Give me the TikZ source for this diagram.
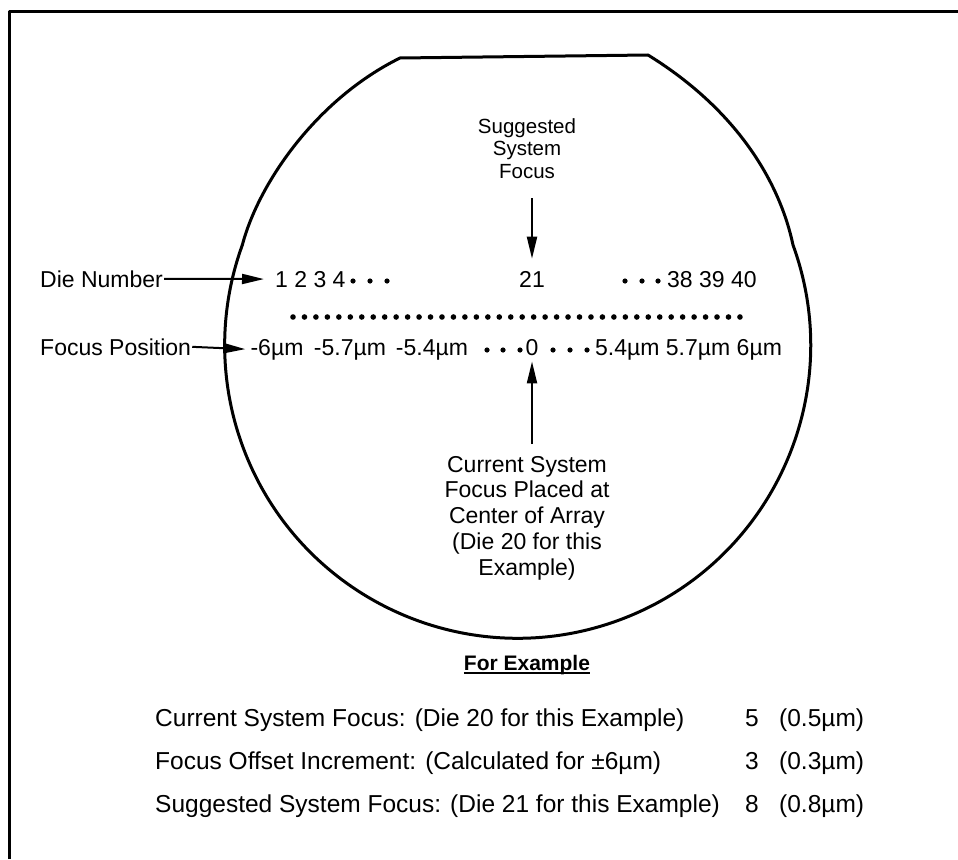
\documentclass[tikz,border=0pt]{standalone}
\usepackage{fontspec}
\setmainfont{Liberation Sans}
\usetikzlibrary{arrows.meta}
\begin{document}
\begin{tikzpicture}[x=1pt,y=-1pt,
  txt/.style={inner sep=0pt, font=\fontsize{23}{25}\selectfont},
  sugtxt/.style={inner sep=0pt, align=center, font=\fontsize{20.5}{22.5}\selectfont},
  curtxt/.style={inner sep=0pt, align=center, font=\fontsize{23}{25.7}\selectfont},
  btxt/.style={inner sep=0pt, font=\fontsize{24.5}{28}\selectfont},
  arr/.style={line width=2pt, -{Triangle[length=22pt,width=10pt]}},
  thick3/.style={line width=3pt, line join=round},
  dotfill/.style={fill=black}
]
\useasboundingbox (0,0) rectangle (958,859);
% frame (left and top edges)
\draw[thick3] (9,859) -- (9,12) -- (958,12);
% wafer outline with flat
\draw[thick3] (400,58) -- (648,55)
  .. controls (742,113) and (781,188) .. (793,245)
  arc[start angle=-20, end angle=200, radius=293]
  .. controls (258,185) and (315,100) .. (400,58) -- cycle;

% Suggested system focus label
\node[sugtxt, anchor=north] (sug) at (527,118) {Suggested\\System\\Focus};
% row 1
\node[txt, anchor=base west] (dn) at (40,287) {Die Number};
\node[txt, anchor=base west] (r1a) at (275,287) {1 2 3 4};
\node[txt, anchor=base] (n21) at (532,287) {21};
\node[txt, anchor=base west] (r1b) at (667,287) {38 39 40};
\foreach \x in {353,370,387,625,642,658} \fill[dotfill] (\x,281) circle[radius=2.6pt];
% dotted row
\foreach \i in {0,...,39} \fill[dotfill] ({293+\i*11.46},317) circle[radius=2.8pt];
% row 2
\node[txt, anchor=base west] (fp) at (40,355) {Focus Position};
\node[txt, anchor=base] (r2a) at (277,355) {-6µm};
\node[txt, anchor=base] (r2b) at (350,355) {-5.7µm};
\node[txt, anchor=base] (r2c) at (432,355) {-5.4µm};
\node[txt, anchor=base] (zero) at (532,355) {0};
\node[txt, anchor=base west] (r2d) at (595,355) {5.4µm 5.7µm 6µm};
\foreach \x in {487,503,520,553,570,587} \fill[dotfill] (\x,350) circle[radius=2.6pt];
% current system focus label
\node[curtxt, anchor=north] (cur) at (527,456) {Current System\\Focus Placed at\\Center of Array\\(Die 20 for this\\Example)};

% arrows
\draw[arr, shorten <=1pt, shorten >=11pt] (dn.east) -- (r1a.west);
\draw[arr, shorten <=1pt, shorten >=5pt] (fp.east) -- (r2a.west);
\draw[arr, shorten <=20pt, shorten >=12pt] (sug.south -| n21) -- (n21.north);
\draw[arr, shorten <=12pt, shorten >=6pt] (cur.north -| zero) -- (zero.south);

% For example table
\node[inner sep=0pt, anchor=base, font=\fontsize{21}{24}\selectfont\bfseries] (fe) at (527,670) {For Example};
\draw[line width=2pt] ([yshift=-3pt]fe.base west) -- ([yshift=-3pt]fe.base east);

\node[btxt, anchor=base west] (t1) at (155,726) {Current System Focus: (Die 20 for this Example)};
\node[btxt, anchor=base west] (t2) at (155,769) {Focus Offset Increment: (Calculated for ±6µm)};
\node[btxt, anchor=base west] (t3) at (155,812) {Suggested System Focus: (Die 21 for this Example)};
\node[btxt, anchor=base] (v1) at (752,726) {5};
\node[btxt, anchor=base] (v2) at (752,769) {3};
\node[btxt, anchor=base] (v3) at (752,812) {8};
\node[btxt, anchor=base west] (u1) at (779,726) {(0.5µm)};
\node[btxt, anchor=base west] (u2) at (779,769) {(0.3µm)};
\node[btxt, anchor=base west] (u3) at (779,812) {(0.8µm)};
\end{tikzpicture}
\end{document}
